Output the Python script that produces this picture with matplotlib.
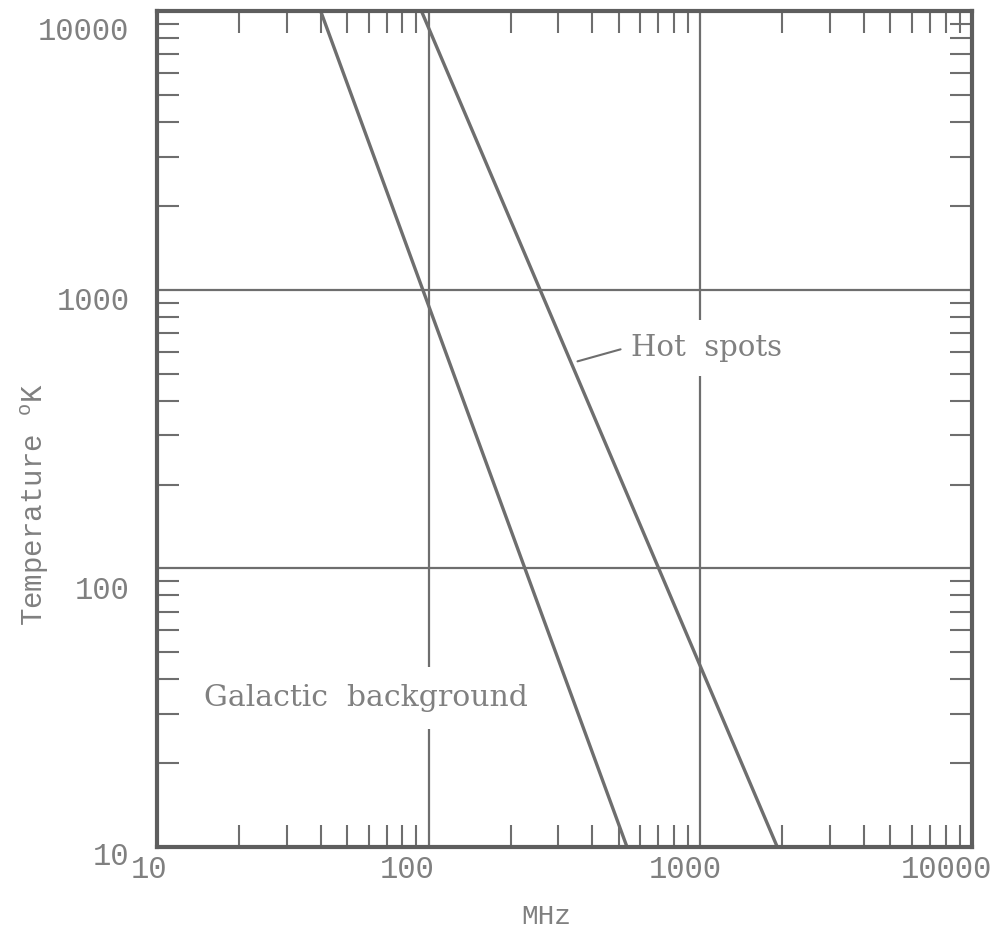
import matplotlib
matplotlib.use("Agg")
import matplotlib.pyplot as plt
from matplotlib.transforms import ScaledTranslation
from matplotlib.ticker import LogLocator, NullFormatter, FixedLocator, FixedFormatter

# -----------------------------------
# DATA
# -----------------------------------
galactic_mhz = [40, 537]
galactic_temp = [10000, 10]

hotspot_mhz = [94, 1920]
hotspot_temp = [10000, 10]

x_ticks = [10, 100, 1000, 10000]
x_labels = ["10", "100", "1000", "10000"]
y_ticks = [10, 100, 1000, 10000]
y_labels = ["10", "100", "1000", "10000"]

# -----------------------------------
# STYLE
# -----------------------------------
plt.rcParams["font.family"] = ["Liberation Mono", "DejaVu Sans Mono"]
plt.rcParams["mathtext.fontset"] = "custom"
plt.rcParams["mathtext.rm"] = "Liberation Mono"

ink = "#6e6e6e"
text_col = "#808080"

fig = plt.figure(figsize=(10.01, 9.34), dpi=100)
ax = fig.add_axes([0.157, 0.0931, 0.814, 0.895])

ax.set_xscale("log")
ax.set_yscale("log")
ax.set_xlim(10, 10000)
ax.set_ylim(10, 10000)

# lines
ax.plot(galactic_mhz, galactic_temp, color=ink, lw=2.4, solid_capstyle="butt")
ax.plot(hotspot_mhz, hotspot_temp, color=ink, lw=2.4, solid_capstyle="butt")

# grid only at inner decades
for v in [100, 1000]:
    ax.axvline(v, color=ink, lw=1.6, zorder=1)
    ax.axhline(v, color=ink, lw=1.6, zorder=1)

# ticks
ax.xaxis.set_major_locator(FixedLocator(x_ticks))
ax.xaxis.set_major_formatter(FixedFormatter(x_labels))
ax.yaxis.set_major_locator(FixedLocator(y_ticks))
ax.yaxis.set_major_formatter(FixedFormatter(y_labels))
ax.xaxis.set_minor_locator(LogLocator(base=10, subs=range(2, 10)))
ax.yaxis.set_minor_locator(LogLocator(base=10, subs=range(2, 10)))
ax.xaxis.set_minor_formatter(NullFormatter())
ax.yaxis.set_minor_formatter(NullFormatter())

ax.tick_params(which="both", direction="in", top=True, right=True,
               color=ink, width=1.5)
ax.tick_params(which="minor", length=16)
ax.tick_params(which="major", length=0, labelsize=22, labelcolor=text_col)
ax.tick_params(axis="y", which="major", pad=20)
ax.tick_params(axis="x", which="major", pad=6)

for spine in ax.spines.values():
    spine.set_color("#5e5e5e")
    spine.set_linewidth(3)

# typed labels sit a bit off their ticks (offsets in pixels)
x_shift = [-8, -22, -15, -26]
y_shift = [6, 19, 9, 17]
for lab, dx in zip(ax.get_xticklabels(), x_shift):
    lab.set_transform(lab.get_transform() + ScaledTranslation(dx / 100, 0.0, fig.dpi_scale_trans))
for lab, dy in zip(ax.get_yticklabels(), y_shift):
    lab.set_transform(lab.get_transform() + ScaledTranslation(0.0, -dy / 100, fig.dpi_scale_trans))

# annotations
ax.text(14.9, 34.3, "Galactic  background", family="DejaVu Serif", fontsize=21.5,
        color=text_col, va="center", ha="left", zorder=3,
        bbox=dict(facecolor="white", edgecolor="none", pad=12))
ax.text(556, 617, "Hot  spots", family="DejaVu Serif", fontsize=21,
        color=text_col, va="center", ha="left", zorder=3,
        bbox=dict(facecolor="white", edgecolor="none", pad=10))
ax.annotate("", xy=(345, 550), xytext=(520, 615),
            arrowprops=dict(arrowstyle="-", color=ink, lw=1.5))

fig.text(0.546, 0.018, "MHz", fontsize=20, color=text_col, ha="center", va="center")
fig.text(0.035, 0.46, "Temperature $^\\mathrm{o}$K", fontsize=21, color=text_col,
         rotation=90, ha="center", va="center")

plt.savefig("out.png", dpi=100)
plt.close()
